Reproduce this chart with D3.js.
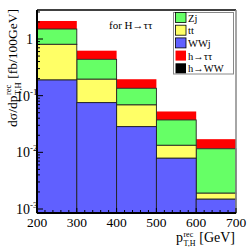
<!DOCTYPE html>
<html>
<head>
<meta charset="utf-8">
<script src="https://cdn.jsdelivr.net/npm/d3@7"></script>
<style>
  body { margin: 0; background: #fff; }
  text { font-family: "Liberation Serif", "Times New Roman", serif; }
</style>
</head>
<body>
<svg id="chart" width="248" height="249"></svg>
<script>
// bins in pT (GeV)
const binEdges = [200, 300, 400, 500, 600, 700];
// stacked contributions per bin (fb/100GeV)
const wwj = [0.189, 0.0753, 0.0284, 0.00787, 0.00149];
const tt = [0.616, 0.1197, 0.0402, 0.00543, 0.00041];
const zj = [0.695, 0.243, 0.0664, 0.024, 0.00967];
const htautau = [0.58, 0.184, 0.06, 0.0153, 0.0055];
const hww = [0, 0, 0, 0, 0];
const xTicks = [200, 300, 400, 500, 600, 700];
const yTicks = [1e-3, 1e-2, 1e-1, 1];

const series = [
  { name: "WWj", vals: wwj, color: "#6060ff" },
  { name: "tt", vals: tt, color: "#ffff66" },
  { name: "Zj", vals: zj, color: "#66ff66" },
  { name: "h→ττ", vals: htautau, color: "#ff0000" },
  { name: "h→WW", vals: hww, color: "#000000" }
];

const svg = d3.select("#chart");
const mLeft = 37, mRight = 236, mTop = 10, mBottom = 213;

const x = d3.scaleLinear().domain([200, 700]).range([mLeft, mRight]);
const y = d3.scaleLog().domain([8.5e-4, 3.25]).range([mBottom, mTop]);

// cumulative tops
const bins = d3.range(binEdges.length - 1).map(i => {
  let acc = 0;
  return series.map(s => {
    const lo = acc;
    acc += s.vals[i];
    return { name: s.name, color: s.color, lo: lo, hi: acc, x0: binEdges[i], x1: binEdges[i + 1] };
  });
});

const g = svg.append("g");
// draw from the outermost (largest) layer down, like overlaid histograms
[3, 2, 1, 0].forEach(k => {
  bins.forEach(b => {
    const d = b[k];
    const yb = d.lo > 0 ? y(d.lo) : mBottom;
    g.append("rect")
      .attr("x", x(d.x0))
      .attr("width", x(d.x1) - x(d.x0))
      .attr("y", y(d.hi))
      .attr("height", Math.max(0, Math.min(mBottom, yb) - y(d.hi)))
      .attr("fill", d.color)
      .attr("stroke", k === 3 ? "none" : "#222")
      .attr("stroke-width", 0.9);
  });
});

// frame
svg.append("line").attr("x1", mLeft).attr("x2", mRight).attr("y1", mTop).attr("y2", mTop)
  .attr("stroke", "#000").attr("stroke-width", 1.5);
svg.append("line").attr("x1", mRight).attr("x2", mRight).attr("y1", mTop).attr("y2", mBottom)
  .attr("stroke", "#888").attr("stroke-width", 1.5);

// x axis with inward ticks
const xMinor = d3.range(200, 701, 20);
svg.selectAll(".xminor").data(xMinor).join("line")
  .attr("x1", d => x(d)).attr("x2", d => x(d))
  .attr("y1", mBottom).attr("y2", d => d % 100 === 0 ? mBottom - 5 : mBottom - 3)
  .attr("stroke", "#000").attr("stroke-width", 1);
svg.append("line").attr("x1", mLeft).attr("x2", mRight).attr("y1", mBottom).attr("y2", mBottom)
  .attr("stroke", "#000").attr("stroke-width", 2);
svg.selectAll(".xlab").data(xTicks).join("text")
  .attr("x", d => x(d)).attr("y", 227)
  .attr("text-anchor", "middle").attr("font-size", 13.5)
  .text(d => d);

// y axis with inward ticks
const yMinor = [];
[1e-3, 1e-2, 1e-1, 1].forEach(dec => {
  for (let m = 1; m < 10; m++) {
    const v = dec * m;
    if (v >= 8.5e-4 && v <= 3.25) yMinor.push(v);
  }
});
svg.selectAll(".yminor").data(yMinor).join("line")
  .attr("x1", mLeft).attr("x2", d => yTicks.includes(d) ? mLeft + 6 : mLeft + 3)
  .attr("y1", d => y(d)).attr("y2", d => y(d))
  .attr("stroke", "#000").attr("stroke-width", 1);
svg.append("line").attr("x1", mLeft).attr("x2", mLeft).attr("y1", mTop).attr("y2", mBottom)
  .attr("stroke", "#000").attr("stroke-width", 2);

yTicks.forEach(v => {
  const e = Math.round(Math.log10(v));
  const t = svg.append("text").attr("y", y(v) + 5).attr("font-size", 14);
  if (e === 0) {
    t.attr("x", 33).attr("text-anchor", "end").text("1");
  } else {
    t.attr("x", 16);
    t.append("tspan").text("10");
    t.append("tspan").attr("font-size", 9).attr("dy", -6).text("-" + (-e));
  }
});

// label with stacked super/subscript, right end placed at the group origin
function stackedLabel(parent, base, sup, sub, rest, fs, sfs, supDy, subDy) {
  const grp = parent.append("g");
  const t1 = grp.append("text").attr("font-size", fs).text(base);
  const w1 = t1.node().getComputedTextLength();
  const ts = grp.append("text").attr("x", w1 + 0.5).attr("y", supDy).attr("font-size", sfs).text(sup);
  const tb = grp.append("text").attr("x", w1 + 0.5).attr("y", subDy).attr("font-size", sfs).text(sub);
  const w2 = Math.max(ts.node().getComputedTextLength(), tb.node().getComputedTextLength());
  const gap = fs * 0.3;
  const t3 = grp.append("text").attr("x", w1 + w2 + gap).attr("font-size", fs).text(rest);
  const total = w1 + w2 + gap + t3.node().getComputedTextLength();
  grp.selectAll("text").attr("transform", `translate(${-total},0)`);
  return grp;
}

// y title
stackedLabel(svg, "dσ/dp", "rec", "T,H", "[fb/100GeV]", 13.5, 8.5, -6, 4)
  .attr("transform", "translate(17,9) rotate(-90)");

// x title
stackedLabel(svg, "p", "rec", "T,H", "[GeV]", 14, 8, -5.5, 3.5)
  .attr("transform", "translate(235,242)");

// annotation
svg.append("text").attr("x", 109).attr("y", 29).attr("font-size", 11).text("for H→ττ");

// legend
const lg = svg.append("g");
lg.append("rect").attr("x", 173.5).attr("y", 12.5).attr("width", 60).attr("height", 61.5)
  .attr("fill", "#fff").attr("stroke", "#888").attr("stroke-width", 1);
const legendOrder = ["Zj", "tt", "WWj", "h→ττ", "h→WW"];
legendOrder.forEach((name, i) => {
  const s = series.find(d => d.name === name);
  const cy = 17.5 + i * 12.7;
  lg.append("rect").attr("x", 175.5).attr("y", cy - 5).attr("width", 10.5).attr("height", 10)
    .attr("fill", s.color).attr("stroke", i < 3 ? "#000" : "none").attr("stroke-width", 0.8);
  lg.append("text").attr("x", 188).attr("y", cy + 4)
    .attr("font-family", "Liberation Sans, Arial, sans-serif").attr("font-size", 10.5)
    .text(name);
});
</script>
</body>
</html>
